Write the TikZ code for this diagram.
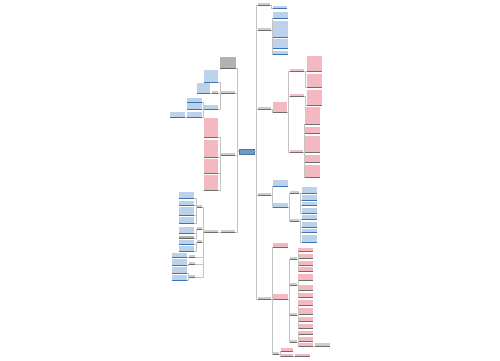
\documentclass[tikz,border=0pt]{standalone}

\definecolor{txtblue}{RGB}{70,130,200}
\definecolor{lineblue}{RGB}{60,115,180}
\definecolor{txtred}{RGB}{225,70,90}
\definecolor{lblgray}{RGB}{110,110,110}
\definecolor{linkgray}{RGB}{195,195,195}
\definecolor{rootblue}{RGB}{105,155,205}

\tikzset{
  tb/.style={rectangle, anchor=north west, inner sep=0pt, outer sep=0pt},
  sz/.style 2 args={minimum width=#1*0.5mm, minimum height=#2*0.5mm},
  bl/.style={tb, fill=txtblue!36,
    append after command={(\tikzlastnode.south west) edge[draw=lineblue, line width=0.5pt] (\tikzlastnode.south east)}},
  rd/.style={tb, fill=txtred!38,
    append after command={(\tikzlastnode.south west) edge[draw=lblgray, line width=0.5pt] (\tikzlastnode.south east)}},
  lb/.style={tb, fill=lblgray!35,
    append after command={(\tikzlastnode.south west) edge[draw=lblgray, line width=0.5pt] (\tikzlastnode.south east)}},
  rl/.style={tb, fill=txtred!35,
    append after command={(\tikzlastnode.south west) edge[draw=lblgray, line width=0.5pt] (\tikzlastnode.south east)}},
  bk/.style={tb, fill=black!30,
    append after command={(\tikzlastnode.south west) edge[draw=black!60, line width=0.5pt] (\tikzlastnode.south east)}},
  link/.style={draw=linkgray, line width=0.4pt},
}

\begin{document}
\begin{tikzpicture}[x=0.5mm, y=-0.5mm]
\useasboundingbox (0,0) rectangle (500,360);

\node[tb, sz={15}{5}, draw=rootblue!75!black, fill=rootblue] (root) at (239,149) {};

% right side
\node[lb, sz={12}{2.5}] (r1) at (258,3) {};
\node[bl, sz={14}{2.5}] (r1a) at (273,6) {};
\node[lb, sz={13}{2.5}] (r2) at (258,28) {};
\node[bl, sz={15}{6}] (r2a) at (273,12) {};
\node[bl, sz={15}{16}] (r2b) at (273,21) {};
\node[bl, sz={15}{9}] (r2c) at (273,39) {};
\node[bl, sz={15}{3.5}] (r2d) at (273,50.5) {};
\node[lb, sz={13}{2.5}] (r3) at (258,107) {};
\node[rd, sz={14}{10}] (r3a) at (273,102) {};
\node[rl, sz={14}{2.5}] (s1) at (290,69) {};
\node[rd, sz={15}{15}] (s1a) at (307,56) {};
\node[rd, sz={15}{13}] (s1b) at (307,74) {};
\node[rl, sz={14}{2.5}] (s2) at (290,94) {};
\node[rd, sz={15}{15}] (s2a) at (307,90) {};
\node[rl, sz={13}{2.5}] (s3) at (290,150) {};
\node[rd, sz={15}{17}] (s3a) at (305,107) {};
\node[rd, sz={15}{6}] (s3b) at (305,127) {};
\node[rd, sz={15}{16}] (s3c) at (305,136) {};
\node[rd, sz={15}{7}] (s3d) at (305,155) {};
\node[rd, sz={15}{12}] (s3e) at (305,165) {};
\node[lb, sz={13}{2.5}] (r4) at (258,193) {};
\node[bl, sz={15}{6}] (r4a) at (273,180) {};
\node[bl, sz={15}{4}] (r4b) at (273,203) {};
\node[lb, sz={9}{2.5}] (sa) at (290,191) {};
\node[bl, sz={15}{6}] (sa1) at (302,187) {};
\node[bl, sz={15}{5}] (sa2) at (302,195) {};
\node[bl, sz={15}{3}] (sa3) at (302,202) {};
\node[bl, sz={15}{5}] (sa4) at (302,208) {};
\node[lb, sz={9}{2.5}] (sb) at (290,219) {};
\node[bl, sz={15}{4}] (sb1) at (302,215) {};
\node[bl, sz={15}{5}] (sb2) at (302,222) {};
\node[bl, sz={15}{3.5}] (sb3) at (302,228.5) {};
\node[bl, sz={15}{7}] (sb4) at (302,235) {};
\node[lb, sz={13}{2.5}] (r5) at (258,297) {};
\node[rd, sz={15}{4}] (r5a) at (273,243) {};
\node[rd, sz={15}{5}] (r5b) at (273,294) {};
\node[lb, sz={7}{2.5}] (t1) at (290,257) {};
\node[rd, sz={15}{3}] (t1a) at (298,248) {};
\node[rd, sz={15}{4}] (t1b) at (298,254) {};
\node[rd, sz={15}{4}] (t1c) at (298,261) {};
\node[rd, sz={15}{4}] (t1d) at (298,267) {};
\node[lb, sz={7}{2.5}] (t2) at (290,283) {};
\node[rd, sz={15}{6}] (t2a) at (298,274) {};
\node[rd, sz={15}{5}] (t2b) at (298,285) {};
\node[rd, sz={15}{4}] (t2c) at (298,293) {};
\node[lb, sz={7}{2.5}] (t3) at (290,313) {};
\node[rd, sz={15}{5}] (t3a) at (298,300) {};
\node[rd, sz={15}{6}] (t3b) at (298,308) {};
\node[rd, sz={15}{4}] (t3c) at (298,317) {};
\node[rd, sz={15}{4}] (t3d) at (298,324) {};
\node[lb, sz={7}{2.5}] (t4) at (290,340) {};
\node[rd, sz={15}{3}] (t4a) at (298,331) {};
\node[rd, sz={15}{4}] (t4b) at (298,337) {};
\node[rd, sz={15}{3}] (t4c) at (298,343) {};
\node[lb, sz={15}{3}] (t4d) at (315,343) {};
\node[lb, sz={6}{2.5}] (u) at (273,352) {};
\node[rd, sz={12}{3}] (u1) at (281,348) {};
\node[rd, sz={12}{2.5}] (u2) at (281,354) {};
\node[rd, sz={15}{3}] (u2a) at (295,353.5) {};

% left side
\node[bk, sz={16}{11}] (l1) at (220,57) {};
\node[lb, sz={14}{2.5}] (l2) at (221,91) {};
\node[bl, sz={14}{12}] (a) at (204,70) {};
\node[lb, sz={6}{2.5}] (b) at (212,91) {};
\node[bl, sz={14}{4}] (c) at (204,105) {};
\node[bl, sz={13}{10}] (d) at (197,83) {};
\node[bl, sz={15}{4}] (e) at (187,98) {};
\node[bl, sz={15}{6}] (f) at (187,103) {};
\node[bl, sz={15}{5}] (g) at (187,112) {};
\node[bl, sz={15}{5}] (h) at (170,112) {};
\node[lb, sz={14}{2.5}] (l3) at (221,153) {};
\node[rd, sz={14}{19}] (l3a) at (204,118) {};
\node[rd, sz={14}{17}] (l3b) at (204,140) {};
\node[rd, sz={14}{14}] (l3c) at (204,159) {};
\node[rd, sz={14}{15}] (l3d) at (204,175) {};
\node[lb, sz={14}{2.5}] (l4) at (221,230) {};
\node[lb, sz={14}{2.5}] (v) at (204,230) {};
\node[lb, sz={5}{2.5}] (w1) at (197,205) {};
\node[lb, sz={5}{2.5}] (w2) at (197,227) {};
\node[lb, sz={5}{2.5}] (w3) at (197,240) {};
\node[lb, sz={6}{2.5}] (w4) at (189,255) {};
\node[lb, sz={6}{2.5}] (w5) at (189,262) {};
\node[lb, sz={6}{2.5}] (w6) at (189,275) {};
\node[bl, sz={15}{6}] (w1a) at (179,192) {};
\node[bl, sz={15}{4}] (w1b) at (179,201) {};
\node[bl, sz={15}{8}] (w1c) at (179,207) {};
\node[bl, sz={15}{6}] (w1d) at (179,217) {};
\node[bl, sz={15}{6}] (w2a) at (179,227) {};
\node[bk, sz={15}{2.5}] (w2b) at (179,236) {};
\node[bl, sz={15}{4}] (w3a) at (179,240) {};
\node[bl, sz={15}{5}] (w3b) at (179,246) {};
\node[bl, sz={15}{4}] (w4a) at (172,253) {};
\node[bl, sz={15}{6}] (w5a) at (172,259) {};
\node[bl, sz={15}{6}] (w6a) at (172,267) {};
\node[bl, sz={15}{5}] (w6b) at (172,275) {};

% connectors
\foreach \c in {r1,r2,r3,r4,r5}
  \draw[link] (root.east) -- ++(2,0) |- (\c.south west);
\foreach \c in {l1,l2,l3,l4}
  \draw[link] (root.west) -- ++(-2,0) |- (\c.south east);
\foreach \p/\c in {r1/r1a, r2/r2a, r2/r2b, r2/r2c, r2/r2d, r3/r3a,
    r3a/s1, r3a/s2, r3a/s3, s1/s1a, s1/s1b, s2/s2a,
    s3/s3a, s3/s3b, s3/s3c, s3/s3d, s3/s3e,
    r4/r4a, r4/r4b, r4b/sa, r4b/sb,
    sa/sa1, sa/sa2, sa/sa3, sa/sa4, sb/sb1, sb/sb2, sb/sb3, sb/sb4,
    r5/r5a, r5/r5b, r5/u, r5b/t1, r5b/t2, r5b/t3, r5b/t4,
    t1/t1a, t1/t1b, t1/t1c, t1/t1d, t2/t2a, t2/t2b, t2/t2c,
    t3/t3a, t3/t3b, t3/t3c, t3/t3d, t4/t4a, t4/t4b, t4/t4c, t4c/t4d,
    u/u1, u/u2, u2/u2a}
  \draw[link] (\p.south east) -- ++(1,0) |- (\c.south west);
\foreach \p/\c in {l2/a, l2/b, l2/c, b/d, c/e, c/f, c/g, g/h,
    l3/l3a, l3/l3b, l3/l3c, l3/l3d, l4/v,
    v/w1, v/w2, v/w3, v/w4, v/w5, v/w6,
    w1/w1a, w1/w1b, w1/w1c, w1/w1d, w2/w2a, w2/w2b, w3/w3a, w3/w3b,
    w4/w4a, w5/w5a, w6/w6a, w6/w6b}
  \draw[link] (\p.south west) -- ++(-1,0) |- (\c.south east);

\end{tikzpicture}
\end{document}
